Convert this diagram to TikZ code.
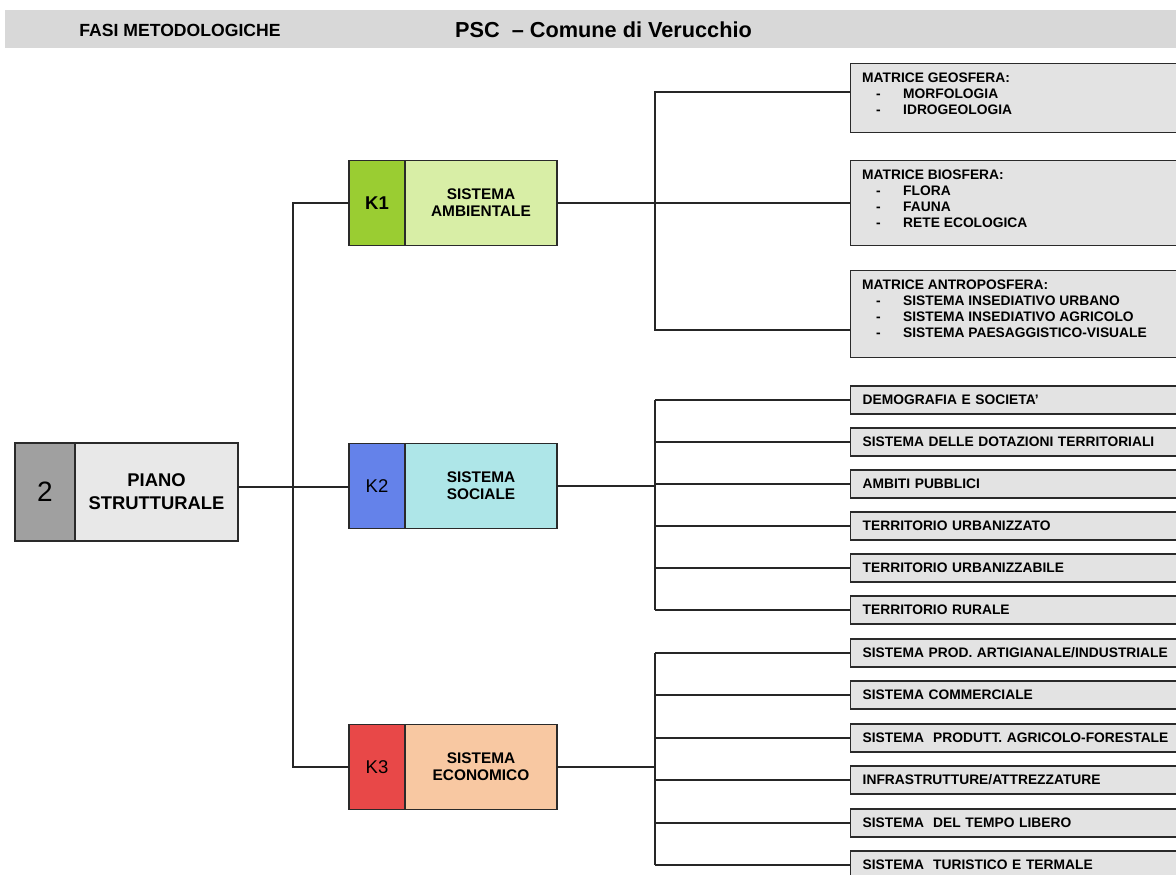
\documentclass[tikz,border=0pt]{standalone}
\usepackage{fontspec}
\setmainfont{Liberation Sans}
\usetikzlibrary{positioning}

\definecolor{bandGray}{HTML}{D8D8D8}
\definecolor{tagGray}{HTML}{A0A0A0}
\definecolor{boxGray}{HTML}{E8E8E8}
\definecolor{leafGray}{HTML}{E3E3E3}
\definecolor{tagGreen}{HTML}{9ACD32}
\definecolor{nameGreen}{HTML}{D8EEA6}
\definecolor{tagBlue}{HTML}{6482EA}
\definecolor{nameCyan}{HTML}{AEE6E8}
\definecolor{tagRed}{HTML}{E84848}
\definecolor{namePeach}{HTML}{F8C8A2}
\definecolor{edgeGray}{HTML}{2A2A2A}

\newcommand{\listdash}{\makebox[41pt][l]{\hspace{14pt}-}}

\tikzset{
  wire/.style={line width=1.4pt, black!85},
  cell/.style={draw=edgeGray, line width=1.3pt, inner sep=0pt, outer sep=0pt, minimum height=85pt},
  ktag/.style={cell, minimum width=56pt, font=\fontsize{18.5}{20}\selectfont},
  kname/.style={cell, minimum width=152pt, align=center, font=\bfseries\fontsize{15.4}{17}\selectfont},
  leaf/.style={draw=edgeGray, line width=1.4pt, fill=leafGray, anchor=west, minimum height=28pt,
    text width=316pt, inner xsep=12pt, inner ysep=0pt, align=left,
    font=\bfseries\fontsize{13.8}{16}\selectfont},
  listbox/.style={leaf, anchor=north west},
  listtext/.style={anchor=north west, align=left, inner sep=0pt, xshift=12pt, yshift=-10pt,
    font=\bfseries\fontsize{13.8}{16}\selectfont},
  head/.style={font=\bfseries\fontsize{17.6}{20}\selectfont}
}

\begin{document}
\begin{tikzpicture}[x=1pt,y=-1pt]
  \useasboundingbox (0,0) rectangle (1176,875);

  % Header band
  \fill[bandGray] (5,10) rectangle (1176,48);
  \node[head] (phases) at (180,30) {FASI METODOLOGICHE};
  \node[head, font=\bfseries\fontsize{21.7}{24}\selectfont] (psc) at (603.5,30) {PSC~ -- Comune di Verucchio};

  % Main box
  \node[cell, minimum width=60pt, minimum height=98pt, fill=tagGray,
    font=\fontsize{28}{30}\selectfont] (two) at (45,492) {2};
  \node[cell, minimum width=163pt, minimum height=98pt, fill=boxGray, align=center,
    font=\bfseries\fontsize{18.4}{23}\selectfont, right=0pt of two] (piano) {PIANO\\STRUTTURALE};

  % Systems
  \node[ktag, fill=tagGreen, font=\bfseries\fontsize{18.5}{20}\selectfont] (k1t) at (377,203) {K1};
  \node[kname, fill=nameGreen, right=0pt of k1t] (k1n) {SISTEMA\\AMBIENTALE};
  \node[ktag, fill=tagBlue] (k2t) at (377,486) {K2};
  \node[kname, fill=nameCyan, right=0pt of k2t] (k2n) {SISTEMA\\SOCIALE};
  \node[ktag, fill=tagRed] (k3t) at (377,767) {K3};
  \node[kname, fill=namePeach, right=0pt of k3t] (k3n) {SISTEMA\\ECONOMICO};

  % Trunk
  \coordinate (bus) at (293,487);
  \draw[wire] (piano.east |- bus) -- (bus) -- (bus -| k2t.west);
  \draw[wire] (k1t.west) -| (bus) |- (k3t.west);

  % K1 branches
  \node[listbox, minimum height=69pt,
    label={[listtext]north west:{MATRICE GEOSFERA:\\\listdash MORFOLOGIA\\\listdash IDROGEOLOGIA}}]
    (geo) at (850,63) {};
  \node[listbox, minimum height=85pt,
    label={[listtext]north west:{MATRICE BIOSFERA:\\\listdash FLORA\\\listdash FAUNA\\\listdash RETE ECOLOGICA}}]
    (bio) at (850,160) {};
  \node[listbox, minimum height=87pt,
    label={[listtext]north west:{MATRICE ANTROPOSFERA:\\\listdash SISTEMA INSEDIATIVO URBANO\\\listdash SISTEMA INSEDIATIVO AGRICOLO\\\listdash SISTEMA PAESAGGISTICO-VISUALE}}]
    (antro) at (850,270) {};
  \coordinate (jgeo) at (655,92);
  \coordinate (jbio) at (655,203);
  \coordinate (jant) at (655,330);
  \draw[wire] (k1n.east) -- (jbio) -- (jbio -| bio.west);
  \draw[wire] (jgeo -| geo.west) -- (jgeo) -- (jant) -- (jant -| antro.west);

  % K2 branches
  \foreach \t [count=\i] in {DEMOGRAFIA E SOCIETA',
      SISTEMA DELLE DOTAZIONI TERRITORIALI, AMBITI PUBBLICI,
      TERRITORIO URBANIZZATO, TERRITORIO URBANIZZABILE, TERRITORIO RURALE}
    \node[leaf] (s\i) at (850,{400+42*(\i-1)}) {\t};
  \coordinate (r2) at (655,486);
  \draw[wire] (k2n.east) -- (r2);
  \draw[wire] (s1.west -| r2) -- (s6.west -| r2);
  \foreach \i in {1,...,6}
    \draw[wire] (s\i.west -| r2) -- (s\i.west);

  % K3 branches
  \foreach \t [count=\i] in {SISTEMA PROD. ARTIGIANALE/INDUSTRIALE,
      SISTEMA COMMERCIALE, SISTEMA~ PRODUTT. AGRICOLO-FORESTALE,
      INFRASTRUTTURE/ATTREZZATURE, SISTEMA~ DEL TEMPO LIBERO,
      SISTEMA~ TURISTICO E TERMALE}
    \node[leaf] (e\i) at (850,{round(653+42.4*(\i-1))}) {\t};
  \coordinate (r3) at (655,767);
  \draw[wire] (k3n.east) -- (r3);
  \draw[wire] (e1.west -| r3) -- (e6.west -| r3);
  \foreach \i in {1,...,6}
    \draw[wire] (e\i.west -| r3) -- (e\i.west);
\end{tikzpicture}
\end{document}
